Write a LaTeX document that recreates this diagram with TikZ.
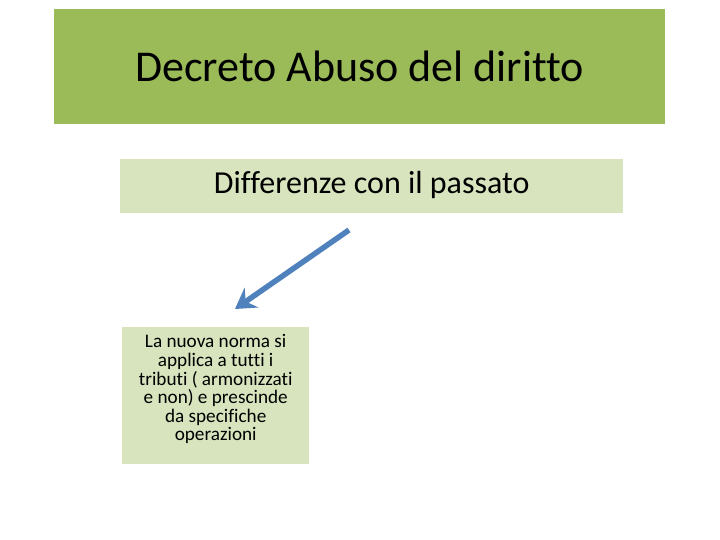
\documentclass[tikz,border=0pt]{standalone}
\usepackage{fontspec}
\setmainfont{Carlito}[Ligatures={NoCommon}]
\usetikzlibrary{arrows.meta}
\definecolor{titlegreen}{HTML}{9BBB59}
\definecolor{lightgreen}{HTML}{D7E4BD}
\definecolor{arrowblue}{HTML}{4F81BD}
\begin{document}
\begin{tikzpicture}[x=1pt,y=1pt,
  box/.style={draw=none,inner sep=0pt,align=center,anchor=north west}]
\useasboundingbox (0,0) rectangle (720,540);
\node[box,fill=titlegreen,minimum width=611pt,minimum height=115pt,font=\fontsize{44}{50}\selectfont] (title) at (54,531) {Decreto Abuso del diritto};
\node[box,fill=lightgreen,minimum width=503pt,minimum height=54pt,font=\fontsize{32}{36}\selectfont,text depth=0pt] (sub) at (120,381) {\raisebox{7pt}{Differenze con il passato}};
\node[box,fill=lightgreen,minimum width=187pt,minimum height=137pt,
  label={[anchor=base,yshift=-114pt,align=center,inner sep=0pt,font=\fontsize{19.2}{18.6}\selectfont]north:{La nuova norma si\\applica a tutti i\\tributi ( armonizzati\\e non) e prescinde\\da specifiche\\operazioni}}] (box) at (122,213) {};
\coordinate (a0) at (349,310);
\coordinate (a1) at (235,231);
\draw[arrowblue,line width=5.5pt,-{Stealth[length=20pt,width=24pt,inset=7pt]}] (a0) -- (a1);
\end{tikzpicture}
\end{document}
